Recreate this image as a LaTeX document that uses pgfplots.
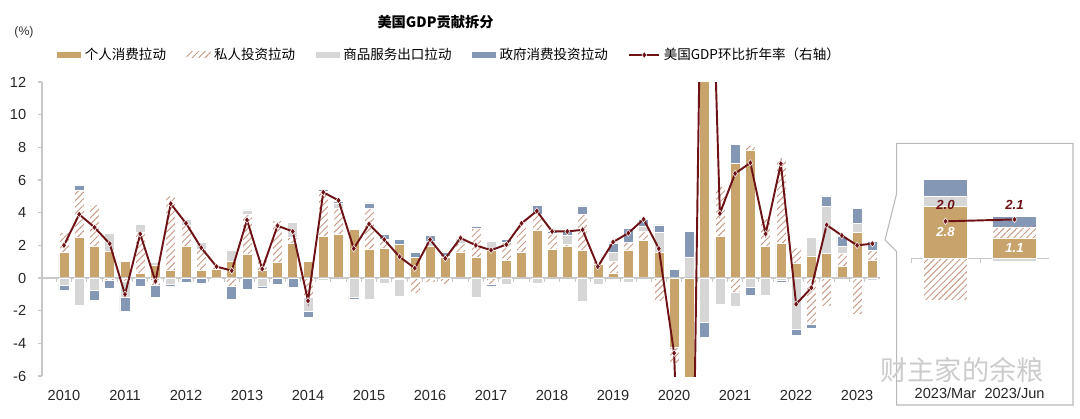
\documentclass[border=0pt]{standalone}
\usepackage{pgfplots}
\pgfplotsset{compat=1.18}
\usepackage{pgfplotstable}
\usepackage{fontspec}
\setmainfont{Liberation Sans}
\newfontfamily\cjk{Noto Sans CJK SC}
\usetikzlibrary{patterns.meta}

\definecolor{pcecol}{RGB}{200,164,108}
\definecolor{invcol}{RGB}{200,156,136}
\definecolor{expcol}{RGB}{214,214,214}
\definecolor{govcol}{RGB}{132,151,180}
\definecolor{gdpcol}{RGB}{110,18,22}
\definecolor{axcol}{RGB}{200,200,200}

% contributions to US GDP growth (pp, annualized), x = quarter index, 0 = 2010Q1
\pgfplotstableread{
x   pce     inv     exp     gov     gdp
0   1.55    1.25   -0.43   -0.35    2.0
1   2.47    2.93   -1.65    0.28    3.9
2   1.96    2.58   -0.78   -0.57    3.1
3   1.65   -0.15    1.10   -0.50    2.1
4   1.04   -0.20   -0.95   -0.90   -1.0
5   0.29    2.50    0.50   -0.50    2.7
6   0.75   -0.47    0.20   -0.68   -0.2
7   0.45    4.60   -0.40   -0.10    4.55
8   1.96    1.25    0.38   -0.25    3.35
9   0.49    1.30    0.40   -0.35    1.85
10  0.55    0.20   -0.05    0.00    0.7
11  1.02   -0.53    0.70   -0.78    0.45
12  1.43    2.50    0.24   -0.68    3.55
13  0.45    0.70   -0.50   -0.10    0.55
14  0.96    2.60    0.00   -0.37    3.2
15  2.12    0.35    0.95   -0.57    2.85
16  1.02   -1.20   -0.85   -0.35   -1.4
17  2.54    2.80   -0.15    0.10    5.25
18  2.65    1.60    0.30    0.15    4.75
19  2.96    0.10   -1.19   -0.10    1.8
20  1.75    2.55   -1.29    0.30    3.3
21  1.85    0.50   -0.30    0.30    2.35
22  2.05   -0.10   -1.00    0.30    1.3
23  1.25   -0.95   -0.05    0.32    0.6
24  1.95   -0.25    0.30    0.35    2.35
25  1.30   -0.40    0.05    0.25    1.2
26  1.60    0.50    0.35    0.05    2.45
27  1.28    1.75   -1.19    0.15    2.0
28  1.67   -0.37    0.56   -0.16    1.7
29  1.06    1.12   -0.37    0.20    2.05
30  1.57    1.70    0.05    0.03    3.35
31  2.94    0.99   -0.33    0.51    4.1
32  1.77    0.92    0.03    0.15    2.85
33  1.92    0.15    0.55    0.22    2.85
34  1.67    2.26   -1.45    0.49    2.95
35  0.85    0.25   -0.40    0.00    0.7
36  0.30    0.75    0.50    0.60    2.2
37  1.72    0.45   -0.27    0.85    2.75
38  2.30    0.55    0.30    0.45    3.6
39  1.55   -1.41    1.25    0.45    1.8
40 -4.25   -0.95    0.00    0.55   -4.6
41 -24.0   -8.50    1.30    1.55  -29.9
42  26.2   12.50   -2.70   -0.90   35.3
43  2.54    3.05   -1.62    0.00    3.95
44  7.00   -0.85   -0.90    1.20    6.4
45  7.80    0.30   -0.55   -0.50    7.05
46  1.95    1.72   -1.04    0.05    2.7
47  2.10    5.10   -0.15   -0.10    7.0
48  0.90    1.00   -3.15   -0.35   -1.6
49  1.35   -2.82    1.15   -0.25   -0.6
50  1.51   -1.76    2.87    0.65    3.25
51  0.70    0.80    0.45    0.60    2.6
52  2.80   -2.25    0.55    0.90    2.0
53  1.10    0.60   -0.15    0.55    2.1
}\gdpdata

% the two quarters of the zoomed box
\pgfplotstableread{
x   pce     inv     exp     gov     gdp
0   2.80   -2.25    0.55    0.90    2.0
1   1.10    0.60   -0.15    0.55    2.1
}\insetdata

\pgfplotsset{
  base/.style={
    at={(0.84cm,0.84cm)}, anchor=south west, scale only axis,
    width=16.76cm, height=5.88cm,
    xmin=-1.44, xmax=53.5, ymin=-6, ymax=12, enlargelimits=false,
  },
  inbase/.style={
    at={(18.22cm,0.752cm)}, anchor=south west, scale only axis,
    width=2.76cm, height=4.144cm,
    xmin=-0.5, xmax=1.5, ymin=-6.6, ymax=4.6, enlargelimits=false,
  },
  pcebar/.style={fill=pcecol, draw=white, line width=0.3pt},
  invbar/.style={pattern={Lines[angle=45,distance=2.6pt,line width=0.55pt]},
    pattern color=invcol, draw=white, line width=0.3pt},
  expbar/.style={fill=expcol, draw=white, line width=0.3pt},
  govbar/.style={fill=govcol, draw=white, line width=0.3pt},
  gdpline/.style={gdpcol, line width=1.1pt, mark=diamond*, mark size=1.9pt,
    mark options={fill=gdpcol, draw=white, line width=0.3pt}},
  swatch/.style={legend image code/.code={
    \path[##1, draw=none] (0cm,-0.06cm) rectangle (0.48cm,0.06cm);}},
}

\begin{document}
\begin{tikzpicture}
\useasboundingbox (0,0) rectangle (21.6,8.36);

% positive parts, stacked upward, plus the visible axes
\begin{axis}[base, ybar stacked, bar width=0.2cm,
  axis x line*=bottom, axis y line*=left,
  x axis line style={draw=none},
  y axis line style={draw=axcol, line width=0.6pt},
  xtick={0,4,...,52},
  xticklabels={2010,2011,2012,2013,2014,2015,2016,2017,2018,2019,2020,2021,2022,2023},
  ytick={-6,-4,...,12},
  x tick style={draw=none},
  y tick style={draw=axcol, line width=0.6pt},
  tick align=outside, major tick length=2.5pt,
  ticklabel style={font=\fontsize{8.3}{10}\selectfont, text=black!85},
  /pgf/number format/assume math mode=true,
  yticklabel style={xshift=-3pt},
  xticklabel style={yshift=-2pt},
]
\draw[axcol, line width=0.6pt] (axis cs:-1.44,0) -- (axis cs:53.5,0);
\pgfplotsinvokeforeach{-0.5,0.5,...,53.5}{\draw[axcol, line width=0.5pt] (axis cs:#1,0) -- ++(0pt,-2.5pt);}
\addplot[pcebar] table[x=x, y expr={max(\thisrow{pce},0)}] {\gdpdata};
\addplot[invbar] table[x=x, y expr={max(\thisrow{inv},0)}] {\gdpdata};
\addplot[expbar] table[x=x, y expr={max(\thisrow{exp},0)}] {\gdpdata};
\addplot[govbar] table[x=x, y expr={max(\thisrow{gov},0)}] {\gdpdata};
\end{axis}

% negative parts, stacked downward
\begin{axis}[base, hide axis, ybar stacked, bar width=0.2cm]
\addplot[pcebar] table[x=x, y expr={min(\thisrow{pce},0)}] {\gdpdata};
\addplot[invbar] table[x=x, y expr={min(\thisrow{inv},0)}] {\gdpdata};
\addplot[expbar] table[x=x, y expr={min(\thisrow{exp},0)}] {\gdpdata};
\addplot[govbar] table[x=x, y expr={min(\thisrow{gov},0)}] {\gdpdata};
\end{axis}

% GDP line and legend
\begin{axis}[base, hide axis,
  legend style={at={(0.0179,1.092)}, anchor=west, draw=none, fill=none,
    legend columns=-1, font=\cjk\fontsize{7.7}{9}\selectfont,
    /tikz/every even column/.append style={column sep=0.34cm},
    inner xsep=0pt, inner ysep=0pt},
  legend cell align=left]
\addlegendimage{pcebar, swatch}
\addlegendimage{invbar, swatch}
\addlegendimage{expbar, swatch}
\addlegendimage{govbar, swatch}
\addplot[gdpline] table[x=x, y=gdp] {\gdpdata};
\legend{个人消费拉动, 私人投资拉动, 商品服务出口拉动, 政府消费投资拉动, 美国GDP环比折年率（右轴）}
\end{axis}

% title and unit
\node[font=\cjk\bfseries\fontsize{8.1}{10}\selectfont] at (8.71,7.92) {美国GDP贡献拆分};
\node[font=\fontsize{7}{8}\selectfont, text=black!80] at (0.48,7.72) {(\%)};

% zoom box
\draw[gray!55, line width=0.6pt] (17.934,5.493) -- (21.46,5.493) -- (21.46,0.26)
  -- (17.934,0.26) -- (17.934,3.326) -- (17.70,3.56) -- (17.934,4.494) -- cycle;

\begin{axis}[inbase, ybar stacked, bar width=0.88cm,
  axis x line*=bottom, axis y line=none, x axis line style={draw=none},
  xtick={0,1}, xticklabels={2023/Mar,2023/Jun}, ytick=\empty,
  x tick style={draw=none},
  ticklabel style={font=\fontsize{8.3}{10}\selectfont, text=black!85},
  xticklabel style={yshift=-1pt}]
\draw[axcol, line width=0.6pt] (axis cs:-0.66,0) -- (axis cs:1.5,0);
\pgfplotsinvokeforeach{-0.5,0.5,1.5}{\draw[axcol, line width=0.5pt] (axis cs:#1,0) -- ++(0pt,-2.5pt);}
\addplot[pcebar] table[x=x, y expr={max(\thisrow{pce},0)}] {\insetdata};
\addplot[invbar] table[x=x, y expr={max(\thisrow{inv},0)}] {\insetdata};
\addplot[expbar] table[x=x, y expr={max(\thisrow{exp},0)}] {\insetdata};
\addplot[govbar] table[x=x, y expr={max(\thisrow{gov},0)}] {\insetdata};
\end{axis}

\begin{axis}[inbase, hide axis, ybar stacked, bar width=0.88cm]
\addplot[pcebar] table[x=x, y expr={min(\thisrow{pce},0)}] {\insetdata};
\addplot[invbar] table[x=x, y expr={min(\thisrow{inv},0)}] {\insetdata};
\addplot[expbar] table[x=x, y expr={min(\thisrow{exp},0)}] {\insetdata};
\addplot[govbar] table[x=x, y expr={min(\thisrow{gov},0)}] {\insetdata};
\end{axis}

\begin{axis}[inbase, hide axis, clip=false]
\addplot[gdpline] table[x=x, y=gdp] {\insetdata};
\node[font=\bfseries\itshape\fontsize{7.5}{9}\selectfont, text=gdpcol] at (axis cs:0,2.0) [yshift=0.32cm] {2.0};
\node[font=\bfseries\itshape\fontsize{7.5}{9}\selectfont, text=gdpcol] at (axis cs:1,2.1) [yshift=0.30cm] {2.1};
\node[font=\bfseries\itshape\fontsize{7.5}{9}\selectfont, text=white] at (axis cs:0,1.42) {2.8};
\node[font=\bfseries\itshape\fontsize{7.5}{9}\selectfont, text=white] at (axis cs:1,0.55) {1.1};
\end{axis}

% watermark
\node[font=\cjk\fontsize{15.5}{17}\selectfont, text=gray!40] at (19.24,0.96) {财主家的余粮};
\end{tikzpicture}
\end{document}
